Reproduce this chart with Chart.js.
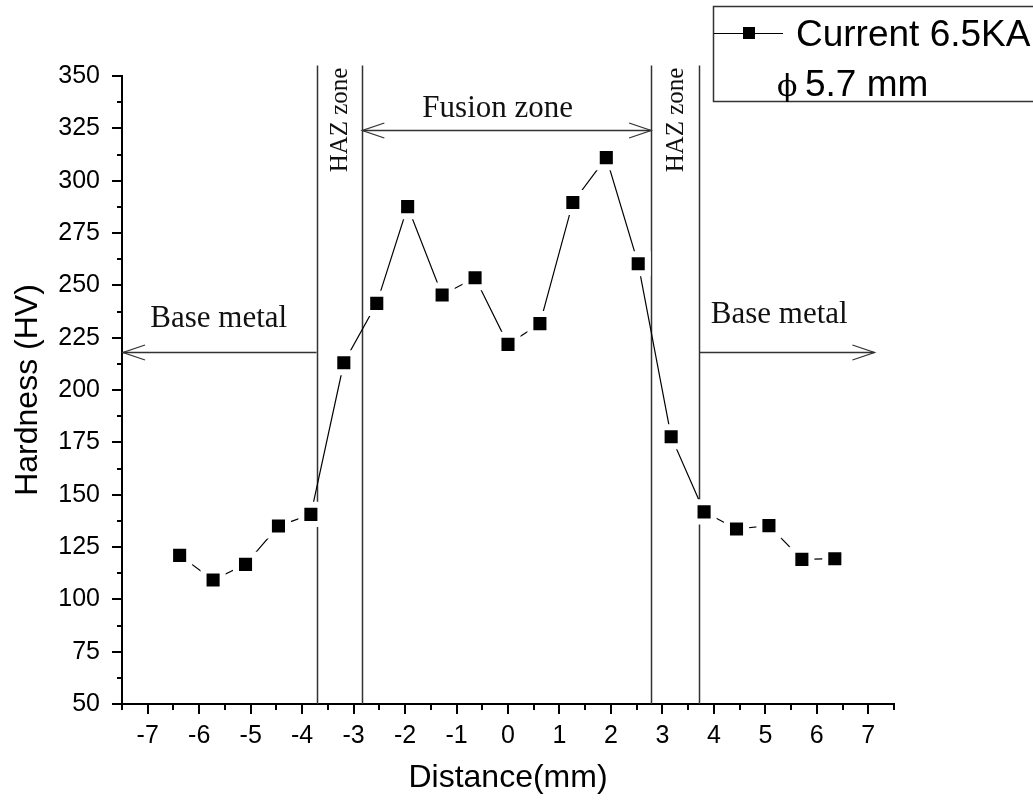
<!DOCTYPE html>
<html>
<head>
<meta charset="utf-8">
<script src="https://cdn.jsdelivr.net/npm/chart.js@4.4.0/dist/chart.umd.min.js"></script>
<style>
  html, body { margin: 0; padding: 0; background: #fff; }
  #wrap { width: 1033px; height: 801px; }
</style>
</head>
<body>
<div id="wrap"><canvas id="hardnessChart" width="1033" height="801"></canvas></div>
<script>
// values
const distance = [-6.38, -5.73, -5.10, -4.46, -3.83, -3.19, -2.55, -1.95, -1.28, -0.64, 0.0,
                  0.62, 1.26, 1.91, 2.53, 3.17, 3.81, 4.44, 5.07, 5.71, 6.35];
const hardness = [121.0, 109.2, 116.7, 135.0, 140.6, 213.0, 241.4, 287.6, 245.4, 253.6, 221.8,
                  231.7, 289.6, 311.0, 260.3, 177.7, 141.8, 133.6, 135.2, 119.1, 119.4];

const xTicks = [-7, -6, -5, -4, -3, -2, -1, 0, 1, 2, 3, 4, 5, 6, 7];
const yTicks = [50, 75, 100, 125, 150, 175, 200, 225, 250, 275, 300, 325, 350];

// zone markers (data units)
const zoneLines = [-3.72, -2.83, 2.78, 3.72];
const zoneLineTop = 355;
const fusionArrow = { from: -2.83, to: 2.78, y: 324 };
const baseArrowLeft = { from: -3.72, to: -7.48, y: 218 };
const baseArrowRight = { from: 3.72, to: 7.12, y: 218 };
const zoneLabels = [
    { text: 'Base metal', x: -5.62, y: 230.2 },
    { text: 'Base metal', x: 5.27, y: 232.0 },
    { text: 'Fusion zone', x: -0.2, y: 330.5 }
];
const hazLabels = [
    { text: 'HAZ zone', x: -3.275, y: 329 },
    { text: 'HAZ zone', x: 3.25, y: 329 }
];

const serif = '"Liberation Serif", "Times New Roman", serif';
const sans = '"Liberation Sans", Arial, sans-serif';

function drawArrowHead(ctx, x, y, dir) {
    ctx.beginPath();
    ctx.moveTo(x - dir * 22, y - 7.5);
    ctx.lineTo(x, y);
    ctx.lineTo(x - dir * 22, y + 7.5);
    ctx.stroke();
}

const zonePlugin = {
    id: 'zones',
    beforeDatasetsDraw(chart) {
        const ctx = chart.ctx;
        const xs = chart.scales.x;
        const ys = chart.scales.y;
        ctx.save();
        ctx.strokeStyle = '#333';
        ctx.lineWidth = 1.5;
        zoneLines.forEach(v => {
            const px = Math.round(xs.getPixelForValue(v)) + 0.5;
            ctx.beginPath();
            ctx.moveTo(px, ys.getPixelForValue(50));
            ctx.lineTo(px, ys.getPixelForValue(zoneLineTop));
            ctx.stroke();
        });

        // arrows
        ctx.lineWidth = 1.3;
        [baseArrowLeft, baseArrowRight, fusionArrow].forEach(a => {
            const x1 = xs.getPixelForValue(a.from);
            const x2 = xs.getPixelForValue(a.to);
            const py = Math.round(ys.getPixelForValue(a.y)) + 0.5;
            ctx.beginPath();
            ctx.moveTo(x1, py);
            ctx.lineTo(x2, py);
            ctx.stroke();
            drawArrowHead(ctx, x2, py, Math.sign(x2 - x1));
            if (a === fusionArrow) drawArrowHead(ctx, x1, py, Math.sign(x1 - x2));
        });

        ctx.fillStyle = '#111';
        ctx.font = '31px ' + serif;
        ctx.textAlign = 'center';
        ctx.textBaseline = 'alphabetic';
        zoneLabels.forEach(l => {
            ctx.fillText(l.text, xs.getPixelForValue(l.x), ys.getPixelForValue(l.y));
        });

        ctx.font = '25px ' + serif;
        ctx.textBaseline = 'middle';
        hazLabels.forEach(l => {
            ctx.save();
            ctx.translate(xs.getPixelForValue(l.x), ys.getPixelForValue(l.y));
            ctx.rotate(-Math.PI / 2);
            ctx.fillText(l.text, 0, 1);
            ctx.restore();
        });
        ctx.restore();
    },
    afterDraw(chart) {
        const ctx = chart.ctx;
        const xs = chart.scales.x;
        const ys = chart.scales.y;
        const area = chart.chartArea;
        ctx.save();
        ctx.strokeStyle = '#000';
        ctx.lineWidth = 2;

        // outward ticks, major and minor
        yTicks.forEach((v, i) => {
            const py = Math.round(ys.getPixelForValue(v));
            ctx.beginPath();
            ctx.moveTo(area.left - 10, py);
            ctx.lineTo(area.left, py);
            ctx.stroke();
            if (i < yTicks.length - 1) {
                const my = Math.round(ys.getPixelForValue((v + yTicks[i + 1]) / 2));
                ctx.beginPath();
                ctx.moveTo(area.left - 5, my);
                ctx.lineTo(area.left, my);
                ctx.stroke();
            }
        });
        const xMinor = [xs.min];
        xTicks.forEach((v, i) => {
            if (i < xTicks.length - 1) xMinor.push((v + xTicks[i + 1]) / 2);
        });
        xMinor.push(xs.max);
        xTicks.forEach(v => {
            const px = Math.round(xs.getPixelForValue(v));
            ctx.beginPath();
            ctx.moveTo(px, area.bottom);
            ctx.lineTo(px, area.bottom + 10);
            ctx.stroke();
        });
        xMinor.forEach(v => {
            const px = Math.round(xs.getPixelForValue(v));
            ctx.beginPath();
            ctx.moveTo(px, area.bottom);
            ctx.lineTo(px, area.bottom + 6);
            ctx.stroke();
        });

        // legend box in the top right corner
        ctx.strokeStyle = '#333';
        ctx.lineWidth = 1.5;
        ctx.strokeRect(713.5, 6.5, 340, 95);
        ctx.strokeStyle = '#000';
        ctx.lineWidth = 1.2;
        ctx.beginPath();
        ctx.moveTo(714, 33.5);
        ctx.lineTo(783, 33.5);
        ctx.stroke();
        ctx.fillStyle = '#000';
        ctx.fillRect(743, 27, 12, 12);
        ctx.font = '37px ' + sans;
        ctx.textAlign = 'left';
        ctx.textBaseline = 'alphabetic';
        ctx.fillText('Current 6.5KA', 796, 46);
        ctx.fillText('5.7 mm', 805, 96);
        ctx.font = '30px "DejaVu Serif", ' + serif;
        ctx.fillText('\u03D5', 777, 96);
        ctx.restore();
    }
};

new Chart(document.getElementById('hardnessChart'), {
    type: 'scatter',
    data: {
        datasets: [{
            label: 'Current 6.5KA',
            data: distance.map((d, i) => ({ x: d, y: hardness[i] })),
            showLine: true,
            borderColor: '#000',
            borderWidth: 1.2,
            pointStyle: 'rect',
            pointRadius: 13.5,
            pointBackgroundColor: '#000',
            pointBorderColor: '#fff',
            pointBorderWidth: 6
        }]
    },
    options: {
        responsive: false,
        animation: false,
        events: [],
        layout: { padding: { top: 76, right: 139, left: 0, bottom: 0 } },
        plugins: { legend: { display: false }, tooltip: { enabled: false } },
        scales: {
            x: {
                type: 'linear',
                min: -7.5,
                max: 7.5,
                afterBuildTicks: scale => { scale.ticks = xTicks.map(v => ({ value: v })); },
                afterFit: scale => { scale.height = 97; },
                grid: { display: false, drawTicks: false, tickLength: 0 },
                border: { display: true, color: '#000', width: 2 },
                ticks: {
                    color: '#000',
                    font: { family: sans, size: 25 },
                    padding: 17,
                    maxRotation: 0,
                    callback: v => String(v)
                },
                title: {
                    display: true,
                    text: 'Distance(mm)',
                    color: '#000',
                    font: { family: sans, size: 32 },
                    padding: { top: 0, bottom: 4 }
                }
            },
            y: {
                type: 'linear',
                min: 50,
                max: 350,
                afterBuildTicks: scale => { scale.ticks = yTicks.map(v => ({ value: v })); },
                afterFit: scale => { scale.width = 122; },
                grid: { display: false, drawTicks: false, tickLength: 0 },
                border: { display: true, color: '#000', width: 2 },
                ticks: {
                    color: '#000',
                    font: { family: sans, size: 25 },
                    padding: 22,
                    callback: v => String(v)
                },
                title: {
                    display: true,
                    text: 'Hardness (HV)',
                    color: '#000',
                    font: { family: sans, size: 32 },
                    padding: { top: 9, bottom: 0 }
                }
            }
        }
    },
    plugins: [zonePlugin]
});
</script>
</body>
</html>
